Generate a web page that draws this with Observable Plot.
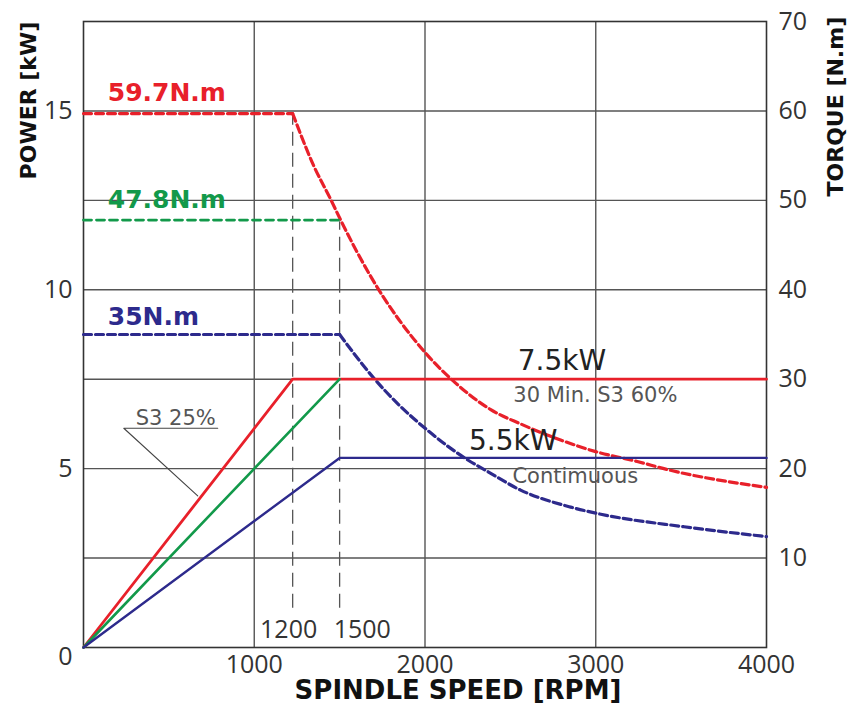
<!DOCTYPE html>
<html>
<head>
<meta charset="utf-8">
<script src="https://cdn.jsdelivr.net/npm/d3@7"></script>
<script src="https://cdn.jsdelivr.net/npm/@observablehq/plot@0.6"></script>
<style>
  body { margin: 0; background: #fff; }
  #chart { width: 850px; height: 704px; }
</style>
</head>
<body>
<div id="chart"></div>
<script>
// Tick labels and grid
const xTicks = [1000, 2000, 3000, 4000];
const powerTicks = [5, 10, 15];
const torqueTicks = [10, 20, 30, 40, 50, 60, 70];
const gridRpm = [1000, 2000, 3000];
const gridKw = [2.5, 5, 7.5, 10, 12.5, 15];

// Power curves (kW vs RPM)
const s3Rpm = [0, 1225, 4000];
const s3Kw = [0, 7.5, 7.5];
const s2Rpm = [0, 1500];
const s2Kw = [0, 7.5];
const contRpm = [0, 1500, 4000];
const contKw = [0, 5.3, 5.3];

// Torque curves (N.m vs RPM)
const redTqRpm = [0, 1225, 1350, 1448, 1506, 1682, 2014, 2160, 2385, 2560, 2794, 3000, 3243, 3419, 4000];
const redTqNm = [59.7, 59.7, 53.8, 50.1, 47.8, 41.5, 32.7, 29.9, 26.6, 25.0, 23.2, 21.9, 20.8, 19.9, 17.9];
const greenTqRpm = [0, 1500];
const greenTqNm = [47.8, 47.8];
const blueTqRpm = [0, 1500, 1701, 1838, 2014, 2248, 2365, 2560, 2853, 3030, 3517, 4000];
const blueTqNm = [35, 35, 30.1, 27.3, 24.3, 21.0, 19.7, 17.6, 15.7, 14.9, 13.5, 12.4];

// Base speed markers
const kneeRpm = [1225, 1500];
const kneeTopKw = [14.9, 11.9];
const kneeLabels = ["1200", "1500"];

const RED = "#e8202a", GREEN = "#12994a", NAVY = "#2d2a8c";
const tq = a => a.map(v => v / 4);

const chart = Plot.plot({
  width: 850,
  height: 704,
  marginLeft: 83,
  marginRight: 84,
  marginTop: 21,
  marginBottom: 57,
  x: { domain: [0, 4000] },
  y: { domain: [0, 17.5] },
  style: { fontFamily: "'Open Sans', sans-serif", fontSize: "25px", color: "#333", background: "#fff", overflow: "visible" },
  marks: [
    Plot.gridX(gridRpm, { stroke: "#555", strokeOpacity: 1, strokeWidth: 1.4 }),
    Plot.gridY(gridKw, { stroke: "#555", strokeOpacity: 1, strokeWidth: 1.4 }),
    Plot.frame({ stroke: "#333", strokeWidth: 1.6 }),
    Plot.axisX(xTicks, { tickSize: 0, tickPadding: 8, label: null, fontSize: 25, fill: "#333", tickFormat: d => String(d) }),
    Plot.axisY(powerTicks, { tickSize: 0, tickPadding: 11, label: null, fontSize: 25, fill: "#333", tickFormat: d => String(d) }),
    Plot.text(["0"], { x: 0, y: 0, text: d => d, textAnchor: "end", dx: -11, dy: 9, fontSize: 25, fill: "#333" }),
    Plot.axisY(tq(torqueTicks), { anchor: "right", tickSize: 0, tickPadding: 12, label: null, fontSize: 25, fill: "#333", tickFormat: d => String(Math.round(d * 4)) }),

    // knee markers
    Plot.ruleX(kneeRpm, { x: kneeRpm, y1: 1.1, y2: kneeTopKw, stroke: "#555", strokeWidth: 1.3, strokeDasharray: "14,7" }),
    Plot.text([kneeLabels[0]], { x: [kneeRpm[0]], y: 0, text: [kneeLabels[0]], textAnchor: "middle", dx: -4, dy: -18, fontSize: 25, fill: "#333" }),
    Plot.text([kneeLabels[1]], { x: [kneeRpm[1]], y: 0, text: [kneeLabels[1]], textAnchor: "start", dx: -6, dy: -18, fontSize: 25, fill: "#333" }),

    // torque (dashed)
    Plot.line(redTqRpm.slice(0, 2), { x: redTqRpm.slice(0, 2), y: tq(redTqNm.slice(0, 2)), stroke: RED, strokeWidth: 3.2, strokeDasharray: "8,4" }),
    Plot.line(redTqRpm.slice(1), { x: redTqRpm.slice(1), y: tq(redTqNm.slice(1)), stroke: RED, strokeWidth: 3.2, strokeDasharray: "8,4", curve: "monotone-x" }),
    Plot.line(greenTqRpm, { x: greenTqRpm, y: tq(greenTqNm), stroke: GREEN, strokeWidth: 2.8, strokeDasharray: "8,5" }),
    Plot.line(blueTqRpm.slice(0, 2), { x: blueTqRpm.slice(0, 2), y: tq(blueTqNm.slice(0, 2)), stroke: NAVY, strokeWidth: 3.2, strokeDasharray: "8,4" }),
    Plot.line(blueTqRpm.slice(1), { x: blueTqRpm.slice(1), y: tq(blueTqNm.slice(1)), stroke: NAVY, strokeWidth: 3.2, strokeDasharray: "8,4", curve: "monotone-x" }),

    // power (solid)
    Plot.line(s3Rpm, { x: s3Rpm, y: s3Kw, stroke: RED, strokeWidth: 2.8 }),
    Plot.line(s2Rpm, { x: s2Rpm, y: s2Kw, stroke: GREEN, strokeWidth: 2.6 }),
    Plot.line(contRpm, { x: contRpm, y: contKw, stroke: NAVY, strokeWidth: 2.4 }),

    // S3 25% callout
    Plot.line([0, 1, 2], { x: [786, 236, 669], y: [6.13, 6.13, 4.24], stroke: "#444", strokeWidth: 1.1 }),
    Plot.text(["S3 25%"], { x: 306, y: 6.23, text: d => d, textAnchor: "start", lineAnchor: "bottom", fontFamily: "DejaVu Sans", fontSize: 21, fill: "#555" }),

    // torque labels
    Plot.text(["59.7N.m"], { x: 142, y: 15.27, text: d => d, textAnchor: "start", lineAnchor: "bottom", fontFamily: "DejaVu Sans", fontWeight: "bold", fontSize: 25, fill: RED }),
    Plot.text(["47.8N.m"], { x: 142, y: 12.29, text: d => d, textAnchor: "start", lineAnchor: "bottom", fontFamily: "DejaVu Sans", fontWeight: "bold", fontSize: 25, fill: GREEN }),
    Plot.text(["35N.m"], { x: 142, y: 9.02, text: d => d, textAnchor: "start", lineAnchor: "bottom", fontFamily: "DejaVu Sans", fontWeight: "bold", fontSize: 25, fill: NAVY }),

    // power labels
    Plot.text(["7.5kW"], { x: 2543, y: 7.76, text: d => d, textAnchor: "start", lineAnchor: "bottom", fontFamily: "DejaVu Sans", fontSize: 28, fill: "#222" }),
    Plot.text(["30 Min. S3 60%"], { x: 2517, y: 6.87, text: d => d, textAnchor: "start", lineAnchor: "bottom", fontFamily: "DejaVu Sans", fontSize: 21, fill: "#555" }),
    Plot.text(["5.5kW"], { x: 2258, y: 5.52, text: d => d, textAnchor: "start", lineAnchor: "bottom", fontFamily: "DejaVu Sans", fontSize: 28, fill: "#222" }),
    Plot.text(["Contimuous"], { x: 2512, y: 4.59, text: d => d, textAnchor: "start", lineAnchor: "bottom", fontFamily: "DejaVu Sans", fontSize: 21, fill: "#555" }),

    // axis titles
    Plot.text(["POWER [kW]"], { x: -322, y: 15.29, text: d => d, rotate: -90, textAnchor: "middle", lineAnchor: "middle", fontFamily: "DejaVu Sans", fontWeight: "bold", fontSize: 22, fill: "#111" }),
    Plot.text(["TORQUE [N.m]"], { x: 4404, y: 15.12, text: d => d, rotate: -90, textAnchor: "middle", lineAnchor: "middle", fontFamily: "DejaVu Sans", fontWeight: "bold", fontSize: 22, fill: "#111" }),
    Plot.text(["SPINDLE SPEED [RPM]"], { frameAnchor: "bottom", text: d => d, textAnchor: "middle", lineAnchor: "bottom", dx: 33, dy: 51, fontFamily: "DejaVu Sans", fontWeight: "bold", fontSize: 26, fill: "#111" })
  ]
});
document.getElementById("chart").appendChild(chart);
</script>
</body>
</html>
